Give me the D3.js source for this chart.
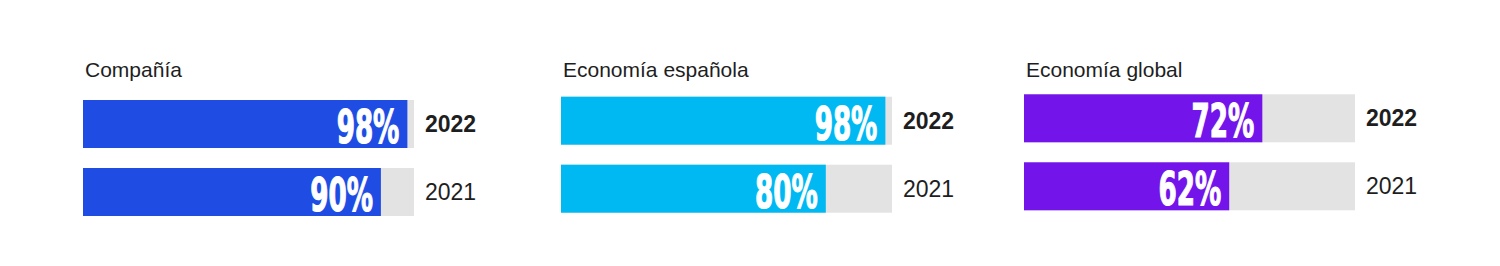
<!DOCTYPE html>
<html>
<head>
<meta charset="utf-8">
<script src="https://cdn.jsdelivr.net/npm/d3@7"></script>
<style>
  html, body { margin: 0; padding: 0; background: #fff; }
  svg { display: block; }
</style>
</head>
<body>
<svg id="chart" width="1500" height="266"></svg>
<script>
// ---- Data ----
const panelTitles = ["Compañía", "Economía española", "Economía global"];
const years = ["2022", "2021"];
const values2022 = [98, 98, 72];
const values2021 = [90, 80, 62];

// ---- Layout / style (kept separate from data) ----
const panelLeft = [83, 561, 1024];
const panelTop = [100, 96.7, 94.3];
const titleBaseline = 77;
const trackWidth = 331;
const colors = ["#1f4de4", "#00b9f3", "#7314eb"];
const trackColor = "#e3e3e3";
const textColor = "#1e1e1e";

const svg = d3.select("#chart");

const x = d3.scaleLinear().domain([0, 100]).range([0, trackWidth]);
const y = d3.scaleBand().domain(years).range([0, 116]).paddingInner(20 / 68);

panelTitles.forEach((title, i) => {
  const vals = { "2022": values2022[i], "2021": values2021[i] };
  const rows = years.map(yr => ({ year: yr, value: vals[yr] }));

  svg.append("text")
    .attr("x", panelLeft[i] + 2)
    .attr("y", titleBaseline)
    .attr("font-family", "'Liberation Sans', Arial, sans-serif")
    .attr("font-size", 21)
    .attr("fill", textColor)
    .text(title);

  const g = svg.append("g").attr("transform", `translate(${panelLeft[i]},${panelTop[i]})`);

  g.selectAll("rect.track").data(rows).join("rect")
    .attr("class", "track")
    .attr("x", x(0))
    .attr("y", d => y(d.year))
    .attr("width", x(100) - x(0))
    .attr("height", y.bandwidth())
    .attr("fill", trackColor);

  g.selectAll("rect.bar").data(rows).join("rect")
    .attr("class", "bar")
    .attr("x", x(0))
    .attr("y", d => y(d.year))
    .attr("width", d => x(d.value) - x(0))
    .attr("height", y.bandwidth())
    .attr("fill", colors[i]);

  g.selectAll("text.pct").data(rows).join("text")
    .attr("class", "pct")
    .attr("transform", d => `translate(${x(d.value) - 8},${y(d.year) + 43}) scale(0.62,1)`)
    .attr("text-anchor", "end")
    .attr("font-family", "'DejaVu Sans Condensed', 'DejaVu Sans', sans-serif")
    .attr("font-weight", "bold")
    .attr("font-size", 47)
    .attr("fill", "#fff")
    .attr("stroke", "#fff")
    .attr("stroke-width", 1.2)
    .text(d => d.value + "%");

  g.selectAll("text.year").data(rows).join("text")
    .attr("class", "year")
    .attr("x", x(100) + 11)
    .attr("y", d => y(d.year) + y.bandwidth() / 2 + 8)
    .attr("font-family", "'Liberation Sans', Arial, sans-serif")
    .attr("font-size", 23)
    .attr("font-weight", d => d.year === "2022" ? "bold" : "normal")
    .attr("fill", textColor)
    .text(d => d.year);
});
</script>
</body>
</html>
